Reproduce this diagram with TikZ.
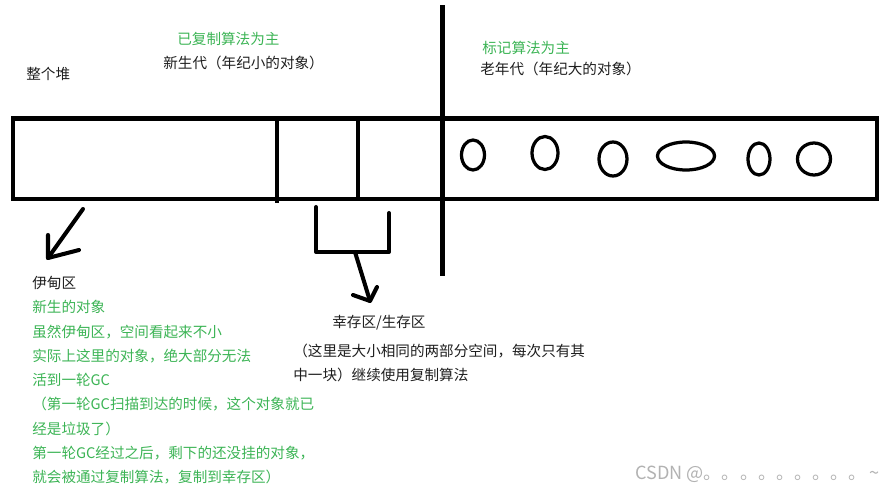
\documentclass[tikz,border=0pt]{standalone}
\usepackage{fontspec}
\setmainfont{Noto Sans CJK SC}
\usepackage{xcolor}
\usepackage{tikz}
\usetikzlibrary{arrows.meta, positioning, calc}
\definecolor{notegreen}{RGB}{60,180,85}
\definecolor{inkgray}{RGB}{30,30,30}
\tikzset{
  wall/.style={line width=2.55pt},
  pen/.style={line width=2.3pt, line cap=round, line join=round},
  obj/.style={line width=1.85pt},
  lbl/.style={inner sep=0pt, anchor=west, text=inkgray,
              font=\fontsize{8.3pt}{10pt}\selectfont},
  note/.style={lbl, text=notegreen},
  wmk/.style={lbl, text=black!30, font=\fontsize{10.3pt}{12pt}\selectfont}
}

\begin{document}
\begin{tikzpicture}[x=0.02cm, y=-0.02cm]
  \useasboundingbox (0,0) rectangle (894,494);

  % heap strip
  \draw[wall] (13,118.5) rectangle (877,199);
  \draw[wall] (277,118.5) -- (277,203);
  \draw[wall] (358,118.5) -- (358,199);
  \draw[wall] (442.5,5) -- (442.5,276);

  % objects in the old generation
  \draw[obj] (473,155) ellipse [x radius=11.5, y radius=15];
  \draw[obj] (545,153) ellipse [x radius=13, y radius=16.5];
  \draw[obj] (613,159) ellipse [x radius=14, y radius=17];
  \draw[obj] (686,156) ellipse [x radius=28.5, y radius=14];
  \draw[obj] (759,159) ellipse [x radius=11, y radius=16];
  \draw[obj] (814,159) ellipse [x radius=16.5, y radius=16];

  % arrow to eden
  \coordinate (edenTail) at (83,209);
  \coordinate (edenTip) at (48,258);
  \coordinate (edenBarbA) at (48,235);
  \coordinate (edenBarbB) at (79,250);
  \draw[pen] (edenTail) -- (edenTip);
  \draw[pen] (edenBarbA) -- (edenTip) -- (edenBarbB);

  % bracket and arrow to survivor
  \coordinate (brL) at (316,207);
  \coordinate (brR) at (389,213);
  \coordinate (survTail) at (355,252);
  \coordinate (survTip) at (370,301);
  \coordinate (survBarbA) at (353,295);
  \coordinate (survBarbB) at (377,287);
  \draw[pen] (brL) -- (brL |- survTail) -- (brR |- survTail) -- (brR);
  \draw[pen] (survTail) -- (survTip);
  \draw[pen] (survBarbA) -- (survTip) -- (survBarbB);

  % labels
  \node[lbl] (heap) at (26,74) {整个堆};
  \node[note] (youngAlg) at (177,39) {已复制算法为主};
  \node[lbl] (young) at (163,63) {新生代（年纪小的对象）};
  \node[note] (oldAlg) at (482,48) {标记算法为主};
  \node[lbl] (old) at (480,69) {老年代（年纪大的对象）};

  \node[lbl] (eden) at (32,283) {伊甸区};
  \foreach \t [count=\i] in {新生的对象, 虽然伊甸区，空间看起来不小,
      实际上这里的对象，绝大部分无法, 活到一轮GC,
      （第一轮GC扫描到达的时候，这个对象就已, 经是垃圾了）,
      第一轮GC经过之后，剩下的还没挂的对象，, 就会被通过复制算法，复制到幸存区）}
    \node[note] (eden\i) at (32,283+24.3*\i) {\t};

  \node[lbl] (surv) at (332,323) {幸存区/生存区};
  \node[lbl] (surv1) at (293,351) {（这里是大小相同的两部分空间，每次只有其};
  \node[lbl] (surv2) at (293,375) {中一块）继续使用复制算法};

  \node[wmk] (csdn) at (635,474) {CSDN @。。。。。。。。。\,\textasciitilde};
\end{tikzpicture}
\end{document}
